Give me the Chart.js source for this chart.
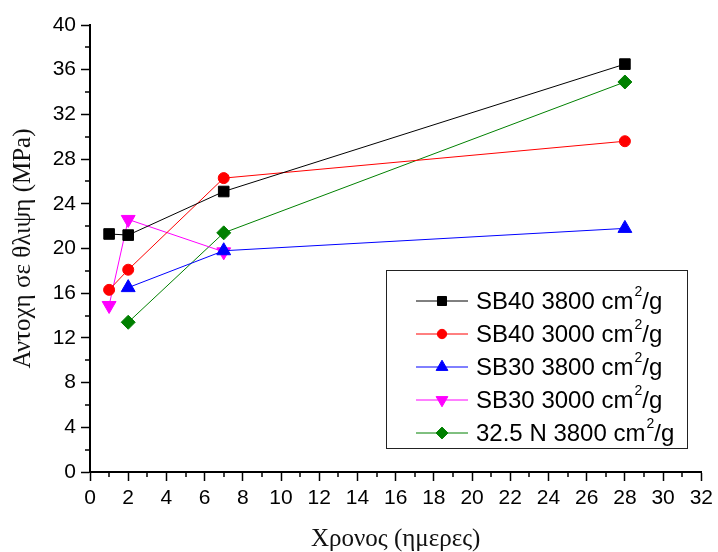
<!DOCTYPE html>
<html>
  <head>
    <meta charset="utf-8" />
    <script src="https://cdn.jsdelivr.net/npm/chart.js@4.4.0/dist/chart.umd.min.js"></script>
    <style>
      html, body { margin: 0; padding: 0; background: #fff; }
      #wrap { width: 718px; height: 552px; }
    </style>
  </head>
  <body>
    <div id="wrap"><canvas id="chart"></canvas></div>
    <script>
      // INPUT DATA

      const days = [1, 2, 7, 28];
      const sb40_3800 = [21.3, 21.2, 25.1, 36.5];
      const sb40_3000 = [16.3, 18.1, 26.3, 29.6];
      const sb30_3800 = [null, 16.5, 19.8, 21.8];
      const sb30_3000 = [14.9, 22.6, 19.7, null];
      const n325_3800 = [null, 13.4, 21.4, 34.9];

      const seriesNames = [
        "SB40 3800 cm²/g",
        "SB40 3000 cm²/g",
        "SB30 3800 cm²/g",
        "SB30 3000 cm²/g",
        "32.5 N 3800 cm²/g",
      ];
      const xTitle = "Χρονος (ημερες)";
      const yTitle = "Αντοχη σε θλιψη (MPa)";

      function toPoints(vals) {
        return days
          .map(function (d, i) {
            return { x: d, y: vals[i] };
          })
          .filter(function (p) {
            return p.y !== null;
          });
      }

      function series(label, vals, color, style, radius, rotation) {
        return {
          label: label,
          data: toPoints(vals),
          borderColor: color,
          backgroundColor: color,
          pointBackgroundColor: color,
          pointBorderColor: color,
          borderWidth: 1,
          pointStyle: style,
          pointRadius: radius,
          pointRotation: rotation || 0,
          pointBorderWidth: 1,
          fill: false,
          tension: 0,
        };
      }

      // PLUGINS

      // short minor ticks between the labelled ones
      const minorTicks = {
        id: "minorTicks",
        afterDraw(chart) {
          const ctx = chart.ctx;
          const xs = chart.scales.x;
          const ys = chart.scales.y;
          const area = chart.chartArea;
          ctx.save();
          ctx.strokeStyle = "#000";
          ctx.lineWidth = 1.5;
          ctx.beginPath();
          for (let v = 1; v < 32; v += 2) {
            const px = Math.round(xs.getPixelForValue(v));
            ctx.moveTo(px, area.bottom);
            ctx.lineTo(px, area.bottom + 5);
          }
          for (let v = 2; v < 40; v += 4) {
            const py = Math.round(ys.getPixelForValue(v));
            ctx.moveTo(area.left, py);
            ctx.lineTo(area.left - 5, py);
          }
          ctx.stroke();
          ctx.restore();
        },
      };

      // boxed legend inside the plot, with superscript units
      const boxLegend = {
        id: "boxLegend",
        afterDraw(chart, args, o) {
          const ctx = chart.ctx;
          ctx.save();
          ctx.strokeStyle = "#222";
          ctx.lineWidth = 1;
          ctx.strokeRect(o.left + 0.5, o.top + 0.5, o.width, o.height);
          chart.data.datasets.forEach(function (ds, i) {
            const y = o.top + o.firstRow + i * o.rowGap;
            ctx.strokeStyle = ds.borderColor;
            ctx.lineWidth = 1;
            ctx.beginPath();
            ctx.moveTo(o.lineX1, y);
            ctx.lineTo(o.lineX2, y);
            ctx.stroke();
            ctx.fillStyle = ds.pointBackgroundColor;
            ctx.strokeStyle = ds.pointBorderColor;
            Chart.helpers.drawPoint(
              ctx,
              {
                pointStyle: ds.pointStyle,
                rotation: ds.pointRotation,
                radius: ds.pointRadius * 0.85,
                borderWidth: 1,
              },
              (o.lineX1 + o.lineX2) / 2,
              y
            );
            const parts = ds.label.split("²");
            let x = o.textX;
            ctx.fillStyle = "#000";
            ctx.textBaseline = "middle";
            ctx.textAlign = "left";
            ctx.font = "24px 'Liberation Sans', Arial, sans-serif";
            ctx.fillText(parts[0], x, y + 1);
            x += ctx.measureText(parts[0]).width;
            if (parts.length > 1) {
              ctx.font = "14px 'Liberation Sans', Arial, sans-serif";
              ctx.fillText("2", x + 1, y - 9);
              x += ctx.measureText("2").width + 1;
              ctx.font = "24px 'Liberation Sans', Arial, sans-serif";
              ctx.fillText(parts[1], x, y + 1);
            }
          });
          ctx.restore();
        },
      };

      // PLOTTING DATA

      const plotData = {
        datasets: [
          series(seriesNames[0], sb40_3800, "#000000", "rect", 7.5),
          series(seriesNames[1], sb40_3000, "#ff0000", "circle", 5.5),
          series(seriesNames[2], sb30_3800, "#0000ff", "triangle", 8),
          series(seriesNames[3], sb30_3000, "#ff00ff", "triangle", 8, 180),
          series(seriesNames[4], n325_3800, "#008000", "rectRot", 7),
        ],
      };

      const tickFont = { family: "'Liberation Sans', Arial, sans-serif", size: 21 };
      const titleFont = { family: "'Liberation Serif', 'Times New Roman', serif", size: 25 };

      new Chart(document.getElementById("chart").getContext("2d"), {
        type: "line",
        data: plotData,
        plugins: [minorTicks, boxLegend],
        options: {
          responsive: true,
          maintainAspectRatio: false,
          animation: false,
          events: [],
          layout: { padding: { top: 25, right: 13, left: 0, bottom: 0 } },
          plugins: {
            legend: { display: false },
            tooltip: { enabled: false },
            boxLegend: {
              left: 386,
              top: 270,
              width: 301,
              height: 178,
              firstRow: 31,
              rowGap: 33,
              lineX1: 416,
              lineX2: 468,
              textX: 476,
            },
          },
          scales: {
            x: {
              type: "linear",
              min: 0,
              max: 32,
              afterFit(scale) {
                scale.height = 80;
              },
              ticks: { stepSize: 2, font: tickFont, color: "#000", padding: 5, maxRotation: 0 },
              grid: {
                drawOnChartArea: false,
                tickLength: 9,
                tickColor: "#000",
                tickWidth: 1.5,
              },
              border: { color: "#000", width: 2 },
              title: {
                display: true,
                text: xTitle,
                font: titleFont,
                color: "#111",
                padding: { top: 0, bottom: -2 },
              },
            },
            y: {
              min: 0,
              max: 40,
              afterFit(scale) {
                scale.width = 90;
              },
              ticks: { stepSize: 4, font: tickFont, color: "#000", padding: 5 },
              grid: {
                drawOnChartArea: false,
                tickLength: 9,
                tickColor: "#000",
                tickWidth: 1.5,
              },
              border: { color: "#000", width: 2 },
              title: {
                display: true,
                text: yTitle,
                font: titleFont,
                color: "#111",
                padding: { top: 8, bottom: 0 },
              },
            },
          },
        },
      });
    </script>
  </body>
</html>
